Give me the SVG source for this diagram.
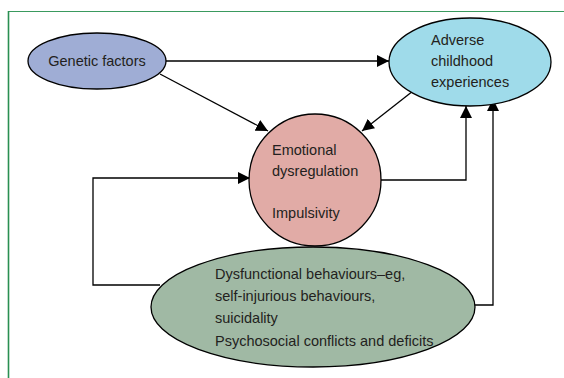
<svg xmlns="http://www.w3.org/2000/svg" width="564" height="378" viewBox="0 0 564 378">
<defs>
<marker id="ah" viewBox="0 0 10 10" refX="10" refY="5" markerWidth="12" markerHeight="12" markerUnits="userSpaceOnUse" orient="auto">
<path d="M0,0 L10,5 L0,10 z" fill="#000"/>
</marker>
<style>
.n{stroke:#000;stroke-width:1.3}
.t{font-family:"Liberation Sans",Arial,sans-serif;font-size:14.5px;fill:#231f20}
.c{fill:none;stroke:#000;stroke-width:1.3;marker-end:url(#ah)}
</style>
</defs>
<rect width="564" height="378" fill="#fff"/>
<line x1="8" y1="11.5" x2="564" y2="11.5" stroke="#3a9a5e" stroke-width="1"/>
<line x1="8.5" y1="11" x2="8.5" y2="378" stroke="#2a8f52" stroke-width="1.6"/>
<g id="connectors">
<path class="c" d="M166,61 H389"/>
<path class="c" d="M160,74 L268,131"/>
<path class="c" d="M413,91 L362,131"/>
<path class="c" d="M381,180 H466 V106"/>
<path class="c" d="M474,305 H493 V99"/>
<path class="c" d="M160,285 H93 V178 H250"/>
</g>
<g id="genetic">
<ellipse class="n" cx="97" cy="61" rx="69" ry="28" fill="#9fadd5"/>
<text class="t" x="97" y="66" text-anchor="middle">Genetic factors</text>
</g>
<g id="adverse">
<ellipse class="n" cx="470" cy="62" rx="81" ry="44" fill="#9fdbea"/>
<text class="t" x="431" y="45">Adverse</text>
<text class="t" x="431" y="66">childhood</text>
<text class="t" x="431" y="87">experiences</text>
</g>
<g id="emotional">
<circle class="n" cx="315" cy="180" r="66" fill="#e1aba6"/>
<text class="t" x="272" y="155">Emotional</text>
<text class="t" x="272" y="176">dysregulation</text>
<text class="t" x="272" y="218">Impulsivity</text>
</g>
<g id="behaviours">
<ellipse class="n" cx="313" cy="307" rx="162" ry="60" fill="#a0b9a4"/>
<text class="t" x="215" y="279">Dysfunctional behaviours–eg,</text>
<text class="t" x="215" y="301">self-injurious behaviours,</text>
<text class="t" x="215" y="323">suicidality</text>
<text class="t" x="215" y="346">Psychosocial conflicts and deficits</text>
</g>
</svg>
